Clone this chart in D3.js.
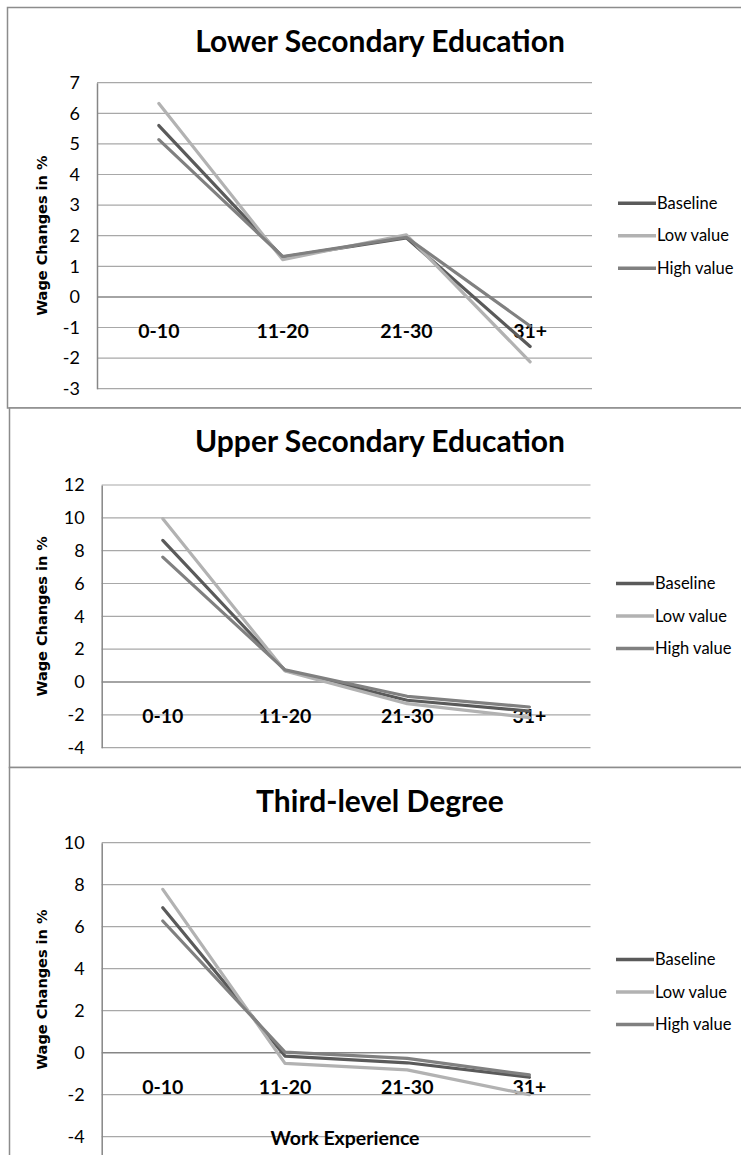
<!DOCTYPE html>
<html>
<head>
<meta charset="utf-8">
<script src="https://cdn.jsdelivr.net/npm/d3@7"></script>
<style>
  html, body { margin: 0; padding: 0; background: #fff; }
  svg { display: block; }
  text { font-family: Lato, "Open Sans", sans-serif; fill: #000; }
</style>
</head>
<body>
<svg id="chart" width="741" height="1155"></svg>
<script>
// Experience bands on the horizontal axis
const categories = ["0-10", "11-20", "21-30", "31+"];
const seriesNames = ["Baseline", "Low value", "High value"];

// Wage changes (%) by education level
const lowerBaseline = [5.60, 1.30, 1.93, -1.62];
const lowerLow      = [6.32, 1.22, 2.03, -2.12];
const lowerHigh     = [5.14, 1.32, 1.95, -0.95];

const upperBaseline = [8.63, 0.71, -1.11, -1.77];
const upperLow      = [9.95, 0.68, -1.32, -2.17];
const upperHigh     = [7.61, 0.74, -0.87, -1.52];

const thirdBaseline = [6.90, -0.16, -0.48, -1.17];
const thirdLow      = [7.78, -0.51, -0.82, -2.00];
const thirdHigh     = [6.27, 0.03, -0.27, -1.06];

// Y-axis ranges and tick values for each panel
const lowerDomain = [-3, 7];
const upperDomain = [-4, 12];
const thirdDomain = [-6, 10];
const lowerTicks = [-3, -2, -1, 0, 1, 2, 3, 4, 5, 6, 7];
const upperTicks = [-4, -2, 0, 2, 4, 6, 8, 10, 12];
const thirdTicks = [-4, -2, 0, 2, 4, 6, 8, 10];

const titles = ["Lower Secondary Education", "Upper Secondary Education", "Third-level Degree"];
const yAxisTitle = "Wage Changes in %";
const xAxisTitle = "Work Experience";

const seriesColors = ["#5a5a5a", "#b2b2b2", "#808080"];

// Panel layout
const panels = [
  { title: titles[0], series: [lowerBaseline, lowerLow, lowerHigh], domain: lowerDomain, ticks: lowerTicks,
    frame: { x: 7.5, y: 7.5, h: 400.5 }, plot: { l: 97, t: 82.7, r: 592, b: 388.7 },
    titleY: 52, legendY: 235.7, legendX: 618, yTitleY: 235.7, xTitle: false },
  { title: titles[1], series: [upperBaseline, upperLow, upperHigh], domain: upperDomain, ticks: upperTicks,
    frame: { x: 9.5, y: 408, h: 359.5 }, plot: { l: 101.7, t: 485, r: 590.5, b: 747.7 },
    titleY: 452, legendY: 616, legendX: 616, yTitleY: 616.4, xTitle: false },
  { title: titles[2], series: [thirdBaseline, thirdLow, thirdHigh], domain: thirdDomain, ticks: thirdTicks,
    frame: { x: 9.5, y: 767.5, h: 420 }, plot: { l: 101.7, t: 842.7, r: 590.5, b: 1178.7 },
    titleY: 811.5, legendY: 992, legendX: 616, yTitleY: 989.7, xTitle: true }
];

const svg = d3.select("#chart");

panels.forEach(p => {
  const g = svg.append("g");

  // chart frame
  g.append("rect")
    .attr("x", p.frame.x).attr("y", p.frame.y)
    .attr("width", 800).attr("height", p.frame.h)
    .attr("fill", "#fff").attr("stroke", "#8c8c8c").attr("stroke-width", 1.5);

  const x = d3.scaleBand().domain(categories).range([p.plot.l, p.plot.r]);
  const y = d3.scaleLinear().domain(p.domain).range([p.plot.b, p.plot.t]);

  // horizontal gridlines
  g.append("g").selectAll("line").data(p.ticks.filter(v => v !== 0)).join("line")
    .attr("x1", p.plot.l).attr("x2", p.plot.r)
    .attr("y1", d => y(d)).attr("y2", d => y(d))
    .attr("stroke", "#a8a8a8").attr("stroke-width", 1.2);

  // y axis
  const yAxis = d3.axisLeft(y).tickValues(p.ticks).tickSize(0).tickPadding(17)
    .tickFormat(d => String(d));
  const ya = g.append("g").attr("transform", `translate(${p.plot.l},0)`).call(yAxis);
  ya.select(".domain").attr("stroke", "#868686").attr("stroke-width", 1.5);
  ya.selectAll("text")
    .style("font-family", "Lato, sans-serif").style("font-size", "18px").attr("fill", "#000");

  // category axis along zero
  g.append("line")
    .attr("x1", p.plot.l).attr("x2", p.plot.r)
    .attr("y1", y(0)).attr("y2", y(0))
    .attr("stroke", "#868686").attr("stroke-width", 1.5);

  const xAxis = d3.axisBottom(x).tickSize(0).tickPadding(0);
  const xa = g.append("g").attr("transform", `translate(0,${y(0)})`).call(xAxis);
  xa.select(".domain").remove();
  xa.selectAll("text")
    .attr("y", 0).attr("dy", 41)
    .style("font-family", "Lato, sans-serif").style("font-size", "19.5px")
    .style("font-weight", "bold").attr("fill", "#000");

  // series lines
  const line = d3.line()
    .x((d, i) => x(categories[i]) + x.bandwidth() / 2)
    .y(d => y(d));
  p.series.forEach((vals, si) => {
    g.append("path")
      .datum(vals)
      .attr("d", line)
      .attr("fill", "none")
      .attr("stroke", seriesColors[si])
      .attr("stroke-width", 3.2)
      .attr("stroke-linejoin", "round")
      .attr("stroke-linecap", "round");
  });

  // title
  g.append("text")
    .attr("x", 380).attr("y", p.titleY)
    .attr("text-anchor", "middle")
    .style("font-size", "30px").style("font-weight", "bold")
    .text(p.title);

  // y axis title
  g.append("text")
    .attr("transform", `translate(47,${p.yTitleY}) rotate(-90)`)
    .attr("text-anchor", "middle")
    .style("font-family", "'DejaVu Sans', Verdana, sans-serif")
    .style("font-size", "14.5px").style("font-weight", "bold")
    .text(yAxisTitle);

  // x axis title
  if (p.xTitle) {
    g.append("text")
      .attr("x", 345).attr("y", 1145)
      .attr("text-anchor", "middle")
      .style("font-size", "19.5px").style("font-weight", "bold")
      .text(xAxisTitle);
  }

  // legend
  const leg = g.append("g");
  seriesNames.forEach((name, i) => {
    const ly = p.legendY + (i - 1) * 32.5;
    leg.append("line")
      .attr("x1", p.legendX).attr("x2", p.legendX + 38)
      .attr("y1", ly).attr("y2", ly)
      .attr("stroke", seriesColors[i]).attr("stroke-width", 3.5);
    leg.append("text")
      .attr("x", p.legendX + 39).attr("y", ly).attr("dy", "0.35em")
      .style("font-size", "16.5px")
      .text(name);
  });
});
</script>
</body>
</html>
